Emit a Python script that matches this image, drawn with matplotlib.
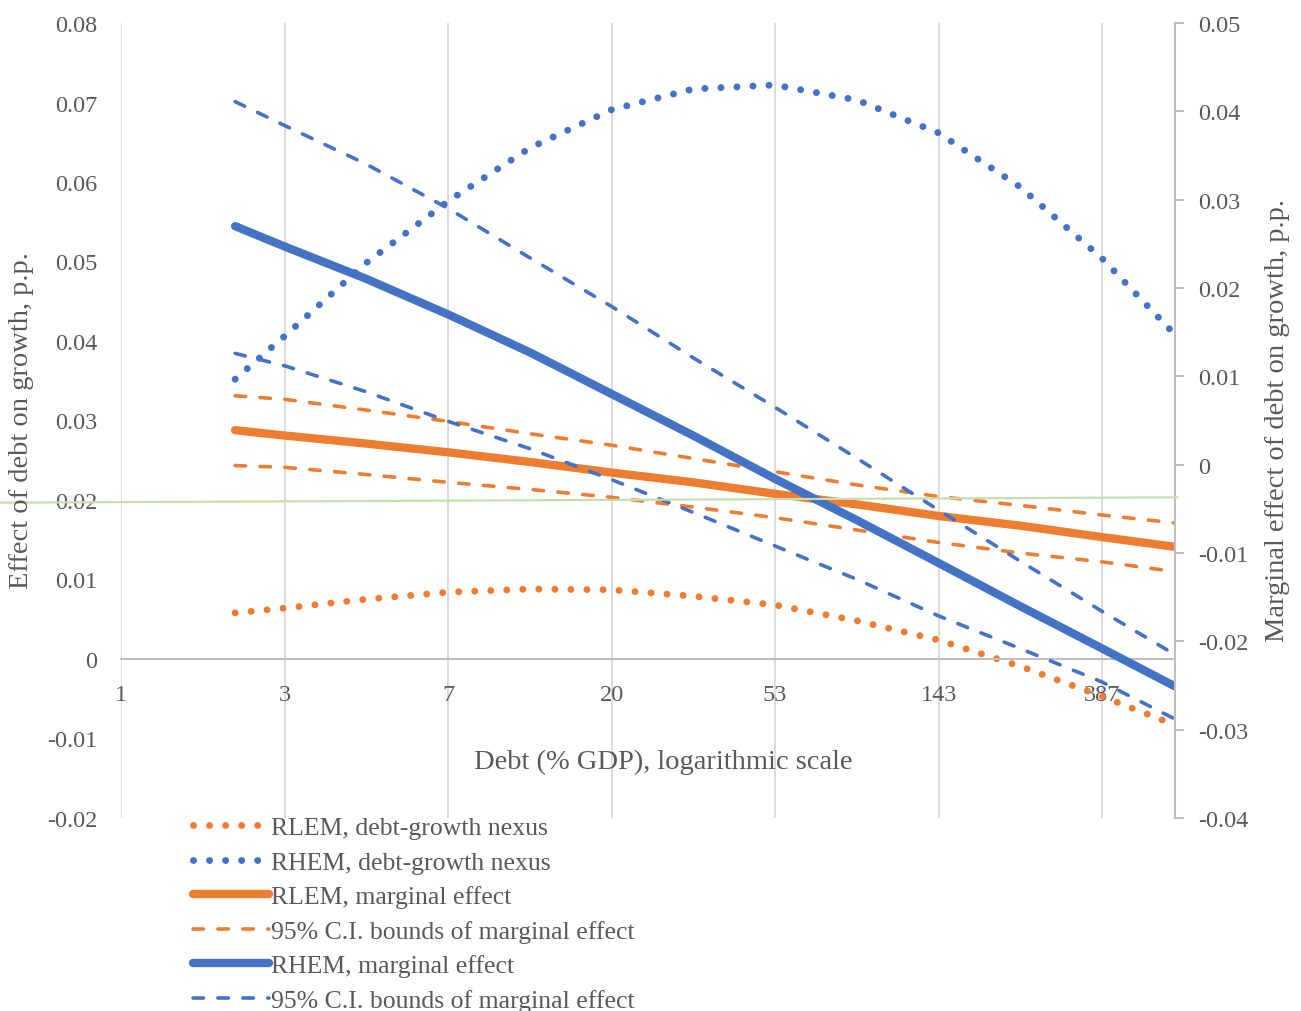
import numpy as np
import matplotlib.pyplot as plt
from matplotlib.ticker import FixedLocator, NullLocator, FuncFormatter
from matplotlib.lines import Line2D

# debt levels (% GDP)
debt = [2, 2.7, 4.4, 7.3, 12, 19.7, 32.3, 53.1, 87.5, 143, 235, 387, 603]

# debt-growth nexus, left scale
rlem_nexus = [0.0058, 0.0064, 0.0075, 0.0084, 0.0088, 0.0087, 0.0079,
              0.0068, 0.0048, 0.0024, -0.0009, -0.0047, -0.0083]
rhem_nexus = [0.0352, 0.0406, 0.0497, 0.0576, 0.0643, 0.0691, 0.0717,
              0.0722, 0.0703, 0.0662, 0.0594, 0.0504, 0.0408]

# marginal effects and 95% bounds, right scale
rlem_me = [0.0039, 0.0033, 0.0024, 0.0014, 0.0003, -0.0009, -0.0020,
           -0.0033, -0.0045, -0.0058, -0.0069, -0.0082, -0.0093]
rlem_hi = [0.0078, 0.0074, 0.0062, 0.0049, 0.0035, 0.0022, 0.0007,
           -0.0008, -0.0023, -0.0036, -0.0046, -0.0057, -0.0066]
rlem_lo = [-0.0001, -0.0003, -0.0011, -0.0020, -0.0028, -0.0037, -0.0048,
           -0.0060, -0.0074, -0.0088, -0.0100, -0.0110, -0.0121]
rhem_me = [0.0270, 0.0247, 0.0211, 0.0170, 0.0127, 0.0080, 0.0033,
           -0.0016, -0.0063, -0.0111, -0.0160, -0.0208, -0.0251]
rhem_hi = [0.0411, 0.0384, 0.0341, 0.0290, 0.0234, 0.0179, 0.0121,
           0.0065, 0.0007, -0.0051, -0.0109, -0.0166, -0.0215]
rhem_lo = [0.0126, 0.0112, 0.0083, 0.0049, 0.0018, -0.0017, -0.0054,
           -0.0092, -0.0130, -0.0171, -0.0208, -0.0246, -0.0288]

ref_x = [0.48, 612]
ref_y = [-0.0043, -0.0037]

xticks = [2.7 ** k for k in range(7)]
xlabels = ['1', '3', '7', '20', '53', '143', '387']

ORANGE = '#ED7D31'
BLUE = '#4472C4'
GREEN = '#C5DFAE'
TXT = '#595959'
AXC = '#BFBFBF'

plt.rcParams['font.family'] = ['Liberation Serif', 'DejaVu Serif']
plt.rcParams['text.color'] = TXT

fig = plt.figure(figsize=(13.01, 10.12), dpi=100)
ax = fig.add_axes([121 / 1301, 1 - 819 / 1012, 1054 / 1301, 795 / 1012])
ax.set_xscale('log', base=2.7)
ax.set_xlim(1, 603)
ax.set_ylim(-0.02, 0.08)
ax2 = ax.twinx()
ax2.set_ylim(-0.04, 0.05)

dot = dict(lw=5.0, linestyle=(0, (0.01, 2.3)), dash_capstyle='round')
dash = dict(lw=2.6, linestyle=(0, (2.9, 4.0)), dash_capstyle='round')
solid = dict(lw=6, solid_capstyle='round')

ax.plot(debt, rlem_nexus, color=ORANGE, **dot)
ax.plot(debt, rhem_nexus, color=BLUE, **dot)
ax2.plot(debt, rlem_me, color=ORANGE, **solid)
ax2.plot(debt, rlem_hi, color=ORANGE, **dash)
ax2.plot(debt, rlem_lo, color=ORANGE, **dash)
ax2.plot(debt, rhem_me, color=BLUE, **solid)
ax2.plot(debt, rhem_hi, color=BLUE, **dash)
ax2.plot(debt, rhem_lo, color=BLUE, **dash)
ax2.plot(ref_x, ref_y, color=GREEN, lw=1.6, clip_on=False, zorder=5)

# x axis crosses at zero on the left scale
for s in ['top', 'left', 'right']:
    ax.spines[s].set_visible(False)
ax.spines['bottom'].set_position(('data', 0))
ax.spines['bottom'].set_color(AXC)
ax.spines['bottom'].set_linewidth(1.5)
ax.xaxis.set_major_locator(FixedLocator(xticks))
ax.xaxis.set_minor_locator(NullLocator())
ax.set_xticklabels(xlabels)
ax.tick_params(axis='x', length=0, pad=18, labelsize=17.5, labelcolor=TXT)
ax.grid(axis='x', color='#D9D9D9', lw=1.3)
ax.set_axisbelow(True)

fmt = FuncFormatter(lambda v, p: '0' if abs(v) < 1e-9 else f'{v:.2f}')
ax.set_yticks(np.arange(-0.02, 0.0801, 0.01))
ax.yaxis.set_major_formatter(fmt)
ax.tick_params(axis='y', length=0, pad=17, labelsize=17.5, labelcolor=TXT)

for s in ['top', 'left', 'bottom']:
    ax2.spines[s].set_visible(False)
ax2.spines['right'].set_color(AXC)
ax2.spines['right'].set_linewidth(1.5)
ax2.set_yticks(np.arange(-0.04, 0.0501, 0.01))
ax2.yaxis.set_major_formatter(fmt)
ax2.tick_params(axis='y', length=6.5, width=1.5, color=AXC, pad=10,
                labelsize=17.5, labelcolor=TXT)

fig.text(22 / 1301, 1 - 421 / 1012, 'Effect of debt on growth, p.p.',
         rotation=90, ha='center', va='center', fontsize=20.5)
fig.text(1278 / 1301, 1 - 421 / 1012, 'Marginal effect of debt on growth, p.p.',
         rotation=90, ha='center', va='center', fontsize=20.5)
fig.text(663 / 1301, 1 - 762 / 1012, 'Debt (% GDP), logarithmic scale',
         ha='center', va='center', fontsize=20.5)

handles = [
    Line2D([], [], color=ORANGE, **dot),
    Line2D([], [], color=BLUE, **dot),
    Line2D([], [], color=ORANGE, **solid),
    Line2D([], [], color=ORANGE, **dash),
    Line2D([], [], color=BLUE, **solid),
    Line2D([], [], color=BLUE, **dash),
]
labels = ['RLEM, debt-growth nexus', 'RHEM, debt-growth nexus',
          'RLEM, marginal effect', '95% C.I. bounds of marginal effect',
          'RHEM, marginal effect', '95% C.I. bounds of marginal effect']
fig.legend(handles, labels, loc='upper left',
           bbox_to_anchor=(193 / 1301, 1 - 817 / 1012), frameon=False,
           fontsize=18.5, handlelength=2.95, handletextpad=0.1,
           labelspacing=0.45, borderaxespad=0, borderpad=0)

fig.savefig('out.png', dpi=100)
